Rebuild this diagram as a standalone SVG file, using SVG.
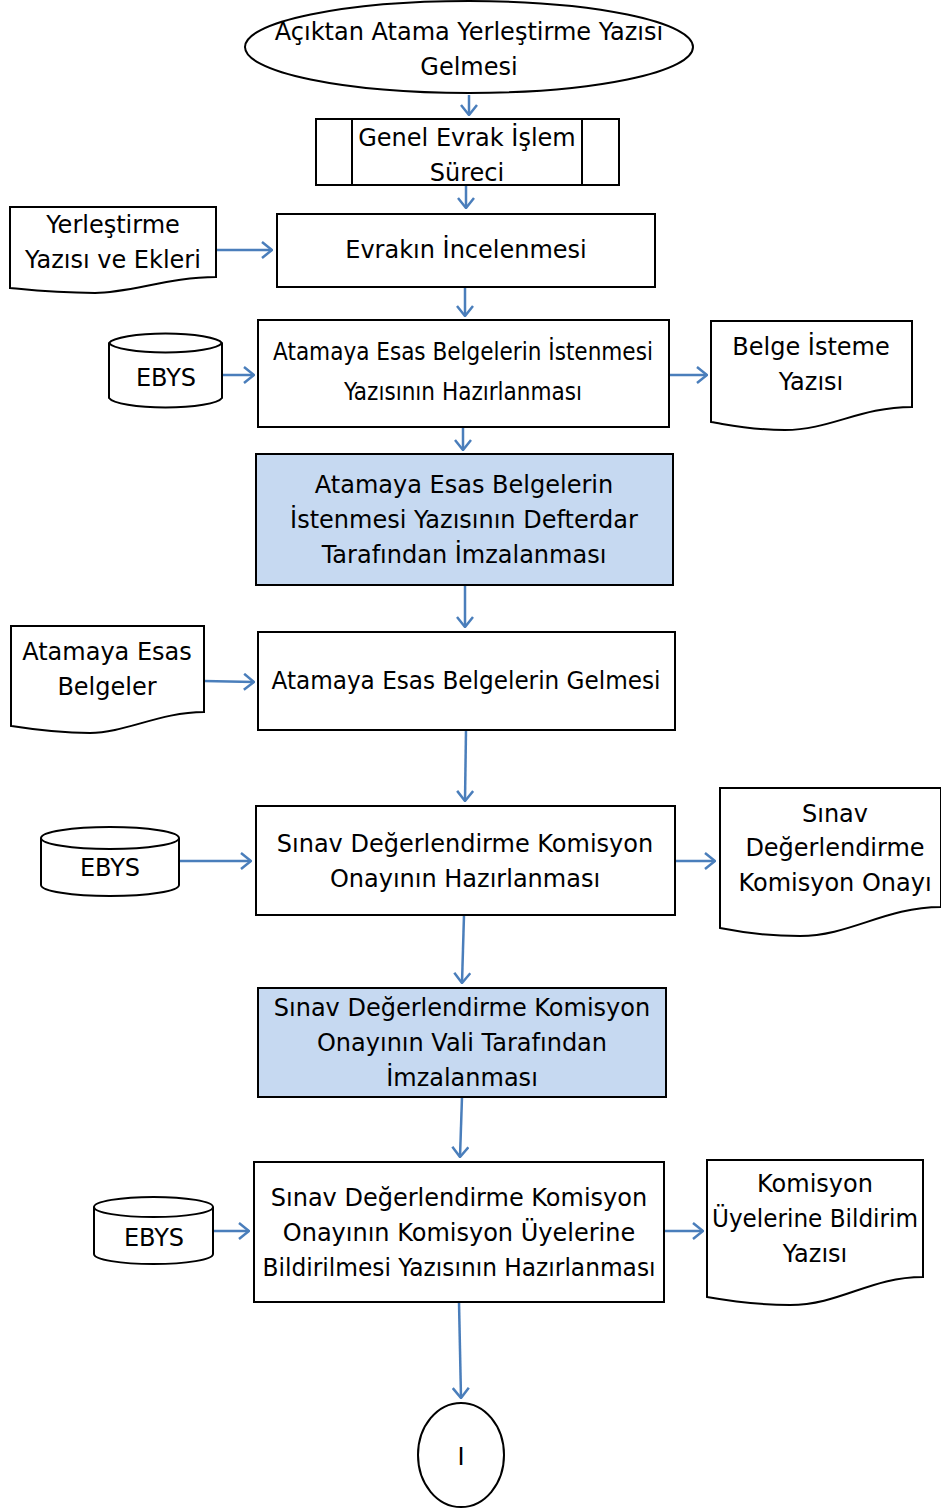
<svg xmlns="http://www.w3.org/2000/svg" width="941" height="1508" viewBox="0 0 941 1508">
<style>
.s{fill:#fff;stroke:#000;stroke-width:2}
.b{fill:#c6d9f1;stroke:#000;stroke-width:2}
.l{fill:none;stroke:#000;stroke-width:2}
text{font-family:"DejaVu Sans",sans-serif;font-size:24px;fill:#000;text-anchor:middle}
.sm{font-family:"DejaVu Sans Condensed","DejaVu Sans",sans-serif;font-size:24px}
.c{fill:none;stroke:#4a7ebb;stroke-width:2.5;marker-end:url(#a)}
</style>
<defs>
<marker id="a" viewBox="0 0 12 18" refX="11" refY="9" markerWidth="12" markerHeight="18" markerUnits="userSpaceOnUse" orient="auto">
<path d="M1,1 L11,9 L1,17" fill="none" stroke="#4a7ebb" stroke-width="2.5"/>
</marker>
</defs>
<g id="connectors">
<path class="c" d="M469,95 L469,115"/>
<path class="c" d="M466,185 L466,208"/>
<path class="c" d="M216,250 L272,250"/>
<path class="c" d="M465,287 L465,316"/>
<path class="c" d="M222,375 L254,375"/>
<path class="c" d="M669,375 L707,375"/>
<path class="c" d="M463,427 L463,450"/>
<path class="c" d="M465,585 L465,627"/>
<path class="c" d="M204,681 L254,682"/>
<path class="c" d="M466,730 L465,801"/>
<path class="c" d="M179,861 L251,861"/>
<path class="c" d="M675,861 L715,861"/>
<path class="c" d="M464,915 L462,983"/>
<path class="c" d="M462,1097 L460,1157"/>
<path class="c" d="M213,1231 L249,1231"/>
<path class="c" d="M664,1231 L703,1231"/>
<path class="c" d="M459,1302 L461,1398"/>
</g>
<g id="start">
<ellipse class="s" cx="469" cy="47" rx="224" ry="46"/>
<text x="469" y="40">Açıktan Atama Yerleştirme Yazısı</text>
<text x="469" y="75">Gelmesi</text>
</g>
<g id="genel-evrak">
<rect class="s" x="316" y="119" width="303" height="66"/>
<path class="l" d="M352,119 V185 M582,119 V185"/>
<text x="467" y="146">Genel Evrak İşlem</text>
<text x="467" y="181">Süreci</text>
</g>
<g id="yerlestirme-doc">
<path class="s" d="M10,207 H216 V277 C170,277 130,293 95,293 C55,293 30,290 10,288 Z"/>
<text x="113" y="233">Yerleştirme</text>
<text x="113" y="268">Yazısı ve Ekleri</text>
</g>
<g id="evrak-incelenmesi">
<rect class="s" x="277" y="214" width="378" height="73"/>
<text x="466" y="258">Evrakın İncelenmesi</text>
</g>
<g id="ebys1">
<path class="s" d="M109,343 V398 A57,11 0 0 0 222,398 V343 A57,11 0 0 0 109,343 Z"/>
<path class="l" d="M109,343 A57,11 0 0 0 222,343"/>
<text x="166" y="386">EBYS</text>
</g>
<g id="belge-istenmesi">
<rect class="s" x="258" y="320" width="411" height="107"/>
<text class="sm" x="463" y="360">Atamaya Esas Belgelerin İstenmesi</text>
<text class="sm" x="463" y="400">Yazısının Hazırlanması</text>
</g>
<g id="belge-isteme-doc">
<path class="s" d="M711,321 H912 V407 C860,407 830,430 785,430 C750,430 730,425 711,422 Z"/>
<text x="811" y="355">Belge İsteme</text>
<text x="811" y="390">Yazısı</text>
</g>
<g id="defterdar-imza">
<rect class="b" x="256" y="454" width="417" height="131"/>
<text x="464" y="493">Atamaya Esas Belgelerin</text>
<text x="464" y="528">İstenmesi Yazısının Defterdar</text>
<text x="464" y="563">Tarafından İmzalanması</text>
</g>
<g id="belgeler-doc">
<path class="s" d="M11,626 H204 V712 C160,712 125,733 90,733 C55,733 30,729 11,726 Z"/>
<text x="107" y="660">Atamaya Esas</text>
<text x="107" y="695">Belgeler</text>
</g>
<g id="belgelerin-gelmesi">
<rect class="s" x="258" y="632" width="417" height="98"/>
<text x="466" y="689" textLength="389" lengthAdjust="spacingAndGlyphs">Atamaya Esas Belgelerin Gelmesi</text>
</g>
<g id="ebys2">
<path class="s" d="M41,838 V885 A69,11 0 0 0 179,885 V838 A69,11 0 0 0 41,838 Z"/>
<path class="l" d="M41,838 A69,11 0 0 0 179,838"/>
<text x="110" y="876">EBYS</text>
</g>
<g id="komisyon-hazirlanmasi">
<rect class="s" x="256" y="806" width="419" height="109"/>
<text x="465" y="852">Sınav Değerlendirme Komisyon</text>
<text x="465" y="887">Onayının Hazırlanması</text>
</g>
<g id="komisyon-onayi-doc">
<path class="s" d="M720,788 H941 V907 C885,907 850,936 800,936 C765,936 740,932 720,928 Z"/>
<text x="835" y="822">Sınav</text>
<text x="835" y="856">Değerlendirme</text>
<text x="835" y="891">Komisyon Onayı</text>
</g>
<g id="vali-imza">
<rect class="b" x="258" y="988" width="408" height="109"/>
<text x="462" y="1016">Sınav Değerlendirme Komisyon</text>
<text x="462" y="1051">Onayının Vali Tarafından</text>
<text x="462" y="1086">İmzalanması</text>
</g>
<g id="ebys3">
<path class="s" d="M94,1207 V1254 A59,10 0 0 0 213,1254 V1207 A59,10 0 0 0 94,1207 Z"/>
<path class="l" d="M94,1207 A59,10 0 0 0 213,1207"/>
<text x="154" y="1246">EBYS</text>
</g>
<g id="bildirim-hazirlanmasi">
<rect class="s" x="254" y="1162" width="410" height="140"/>
<text x="459" y="1206">Sınav Değerlendirme Komisyon</text>
<text x="459" y="1241">Onayının Komisyon Üyelerine</text>
<text x="459" y="1276" textLength="393" lengthAdjust="spacingAndGlyphs">Bildirilmesi Yazısının Hazırlanması</text>
</g>
<g id="bildirim-doc">
<path class="s" d="M707,1160 H923 V1277 C870,1277 840,1305 790,1305 C755,1305 730,1301 707,1297 Z"/>
<text x="815" y="1192">Komisyon</text>
<text x="815" y="1227" textLength="206" lengthAdjust="spacingAndGlyphs">Üyelerine Bildirim</text>
<text x="815" y="1262">Yazısı</text>
</g>
<g id="connector-I">
<ellipse class="s" cx="461" cy="1455" rx="43" ry="52"/>
<text x="461" y="1465">I</text>
</g>
</svg>
